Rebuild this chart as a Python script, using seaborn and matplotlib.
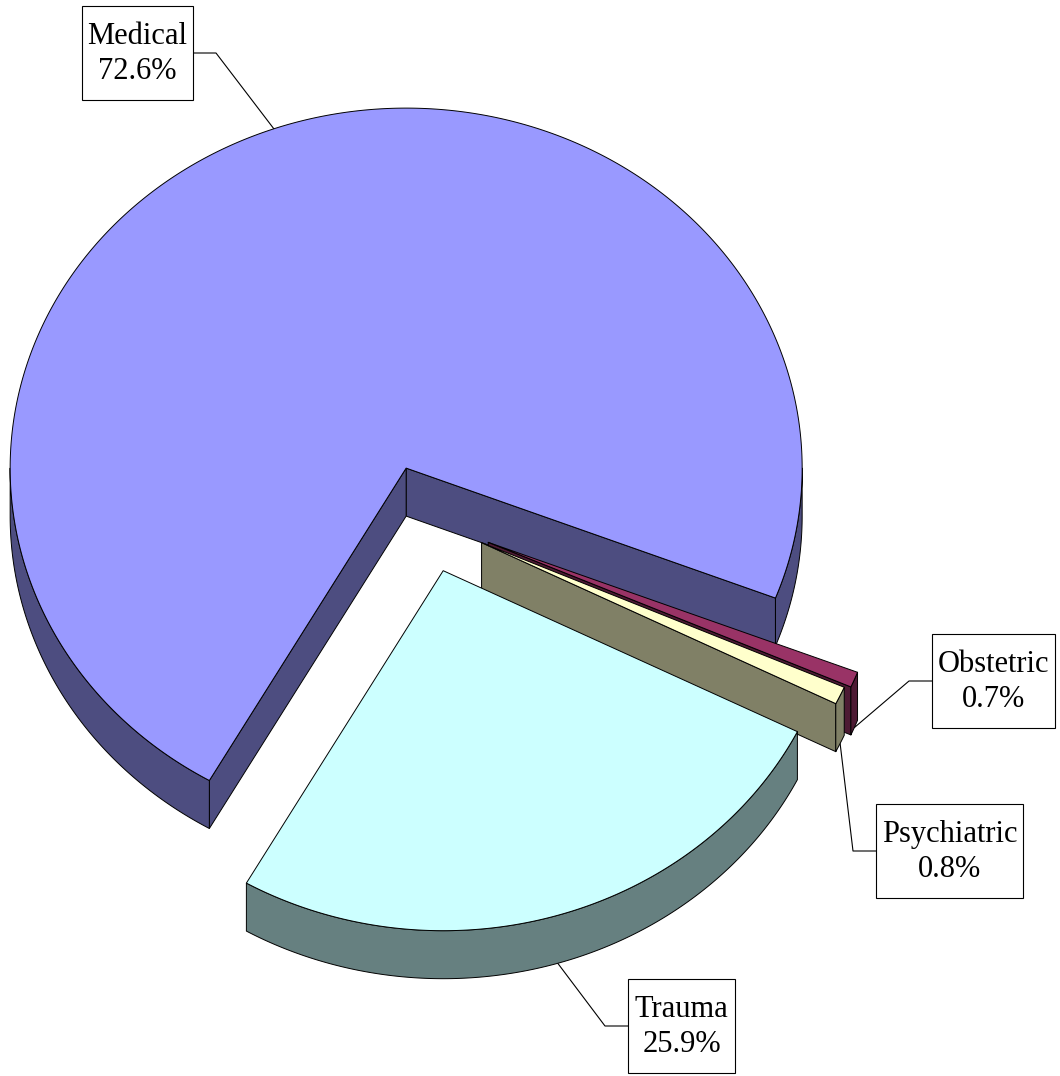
import numpy as np
import matplotlib
matplotlib.use('Agg')
import matplotlib.pyplot as plt
from matplotlib.patches import Polygon, Rectangle
from matplotlib.colors import to_rgb
import seaborn as sns

# data (clockwise order starting at Medical)
labels = ['Medical', 'Obstetric', 'Psychiatric', 'Trauma']
shares = [72.6, 0.7, 0.8, 25.9]
top_colors = ['#9999FF', '#993366', '#FFFFCC', '#CCFFFF']
explode = [0.15, 0.17, 0.155, 0.15]

# label boxes in pixels (x0, y0, x1, y1)
boxes = {
    'Medical': (82, 6, 193, 100),
    'Obstetric': (932, 634, 1055, 728),
    'Psychiatric': (876, 804, 1023, 898),
    'Trauma': (628, 979, 735, 1073),
}

sns.set_theme(style='white')
plt.rcParams['font.family'] = ['Liberation Serif', 'DejaVu Serif']

W, H = 1060, 1076
cx, cy = 426, 519        # pie centre
rx, ry = 396, 360        # ellipse radii of the tilted pie
depth = 48               # thickness of the 3D slab
start = 240.2            # first edge of Medical, slices run clockwise

fig = plt.figure(figsize=(W / 100, H / 100), dpi=100)
ax = fig.add_axes([0, 0, 1, 1])
ax.set_xlim(0, W)
ax.set_ylim(H, 0)
ax.axis('off')


def pt(c, t, dz=0.0):
    r = np.radians(t)
    return np.column_stack([c[0] + rx * np.cos(r), c[1] - ry * np.sin(r) + dz])


spans = np.array(shares) / sum(shares) * 360
his = start - np.concatenate([[0], np.cumsum(spans)[:-1]])
los = his - spans
mids = (los + his) / 2

# draw slices from back to front
order = np.argsort(-np.sin(np.radians(mids)))
kw = dict(edgecolor='black', linewidth=0.7, joinstyle='round')

anchors = {}
for i in order:
    lo, hi, mid, e = los[i], his[i], mids[i], explode[i]
    top = top_colors[i]
    side = tuple(np.array(to_rgb(top)) * 0.5)
    c = (cx + e * rx * np.cos(np.radians(mid)), cy - e * ry * np.sin(np.radians(mid)))
    apex = np.array(c)
    down = np.array([0, depth])

    # radial faces facing the viewer
    for a, vis in ((lo, np.cos(np.radians(lo)) > 0), (hi, np.cos(np.radians(hi)) < 0)):
        if vis:
            p = pt(c, a)[0]
            ax.add_patch(Polygon([apex, p, p + down, apex + down], facecolor=side, **kw))

    # outer curved side on the front half
    n = max(3, int((hi - lo) * 4))
    ts = np.linspace(lo, hi, n)
    k = np.arange(np.ceil(lo / 180), np.floor(hi / 180) + 1) * 180
    ts = np.unique(np.concatenate([ts, k]))
    front = np.sin(np.radians(ts)) <= 1e-9
    run = []
    for t, f in list(zip(ts, front)) + [(None, False)]:
        if f:
            run.append(t)
        elif run:
            if len(run) > 1:
                r = np.array(run)
                poly = np.vstack([pt(c, r), pt(c, r[::-1], depth)])
                ax.add_patch(Polygon(poly, facecolor=side, **kw))
            run = []

    # top face
    arc = pt(c, np.linspace(lo, hi, n))
    ax.add_patch(Polygon(np.vstack([apex, arc]), facecolor=top, **kw))

    dz = depth if np.sin(np.radians(mid)) < 0 else 0
    anchors[labels[i]] = pt(c, mid, dz)[0]

# labels with leader lines
for name, v in zip(labels, shares):
    x0, y0, x1, y1 = boxes[name]
    ax.add_patch(Rectangle((x0, y0), x1 - x0, y1 - y0, facecolor='white',
                           edgecolor='black', linewidth=0.8, zorder=3))
    ax.text((x0 + x1) / 2, (y0 + y1) / 2 + 1, f'{name}\n{v:.1f}%', ha='center', va='center',
            fontsize=22, linespacing=1.25, color='black', zorder=4)
    ax_, ay_ = anchors[name]
    ym = (y0 + y1) / 2
    if ax_ > x1:
        xs = [x1, x1 + 23, ax_]
    else:
        xs = [x0, x0 - 23, ax_]
    ax.plot(xs, [ym, ym, ay_], color='black', linewidth=0.8, zorder=0.5)

fig.savefig('out.png', dpi=100)
